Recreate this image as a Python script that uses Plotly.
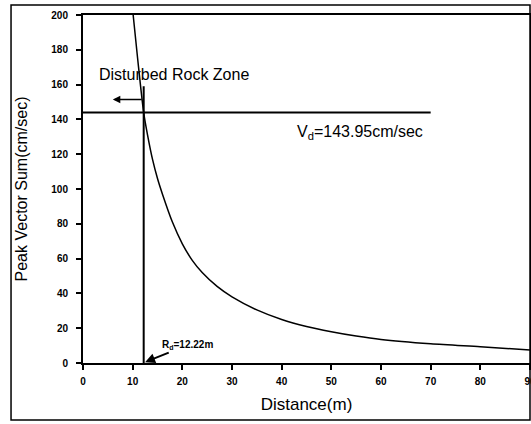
import plotly.graph_objects as go

# Data
distance = [10.1, 11, 12.22, 13, 14, 15, 16, 18, 20, 22, 24, 27, 30, 35, 40, 45, 50, 55, 60, 70, 80, 90]
pvs = [200, 175, 143.95, 131, 117, 106, 97, 81, 68.5, 59, 52, 44, 38, 30.5, 25, 21, 18, 15.5, 13.5, 11, 9.3, 7.5]

vd = 143.95
rd = 12.22
vd_line_end = 70
rd_line_top = 159
drz_arrow_y = 151.5
drz_arrow_left = 6

x_ticks = [0, 10, 20, 30, 40, 50, 60, 70, 80, 90]
y_ticks = [0, 20, 40, 60, 80, 100, 120, 140, 160, 180, 200]

FONT = "Liberation Sans, Arial, sans-serif"

fig = go.Figure()
fig.add_trace(go.Scatter(x=distance, y=pvs, mode="lines",
                         line=dict(color="black", width=1.5, shape="spline", smoothing=0.8),
                         showlegend=False, hoverinfo="skip"))
# Vd horizontal line
fig.add_trace(go.Scatter(x=[0, vd_line_end], y=[vd, vd], mode="lines",
                         line=dict(color="black", width=2), showlegend=False))
# Rd vertical line
fig.add_trace(go.Scatter(x=[rd, rd], y=[0, rd_line_top], mode="lines",
                         line=dict(color="black", width=2), showlegend=False))

# outer frame
fig.add_shape(type="rect", xref="paper", yref="paper",
              x0=-0.161, x1=1.0, y0=-0.164, y1=1.029,
              line=dict(color="black", width=1.5))

# Disturbed rock zone arrow
fig.add_annotation(x=drz_arrow_left, y=drz_arrow_y, ax=rd, ay=drz_arrow_y,
                   xref="x", yref="y", axref="x", ayref="y", text=" ",
                   showarrow=True, arrowhead=2, arrowsize=1, arrowwidth=1.5,
                   arrowcolor="black", font=dict(size=2))
fig.add_annotation(x=2.9, y=166, xref="x", yref="y", text="Disturbed Rock Zone",
                   showarrow=False, xanchor="left", yanchor="middle",
                   font=dict(family=FONT, size=16, color="black"))
fig.add_annotation(x=42.6, y=132.5, xref="x", yref="y",
                   text="V<sub>d</sub>=143.95cm/sec",
                   showarrow=False, xanchor="left", yanchor="middle",
                   font=dict(family=FONT, size=16, color="black"))
fig.add_annotation(x=12.5, y=0.5, ax=21.0, ay=10.3, xref="x", yref="y",
                   axref="x", ayref="y",
                   text="<b>R<sub>d</sub>=12.22m</b>",
                   showarrow=True, arrowhead=2, arrowsize=1, arrowwidth=2,
                   arrowcolor="black",
                   font=dict(family=FONT, size=10, color="black"))

axis_common = dict(showgrid=False, zeroline=False, showline=True, linecolor="black",
                   linewidth=2, mirror=True, ticks="outside", ticklen=5,
                   tickwidth=1.5, tickcolor="black", ticklabeloverflow="allow",
                   automargin=False,
                   tickfont=dict(family=FONT, size=10, color="black"))

fig.update_xaxes(range=[0, 90], tickvals=x_ticks,
                 ticktext=[f"<b>{v}</b>" for v in x_ticks],
                 ticklabelstandoff=3,
                 title=dict(text="Distance(m)", font=dict(family=FONT, size=17, color="black"),
                            standoff=12),
                 **axis_common)
fig.update_yaxes(range=[0, 200], tickvals=y_ticks,
                 ticktext=[f"<b>{v}</b>" for v in y_ticks],
                 ticklabelstandoff=6,
                 title=dict(text="Peak Vector Sum(cm/sec)",
                            font=dict(family=FONT, size=16, color="black"), standoff=20),
                 **axis_common)

fig.update_layout(width=531, height=424, margin=dict(l=83, r=1, t=15, b=61),
                  plot_bgcolor="white", paper_bgcolor="white")

fig.write_html("out.html", config={"displayModeBar": False},
               post_script="document.body.style.margin='0';")
